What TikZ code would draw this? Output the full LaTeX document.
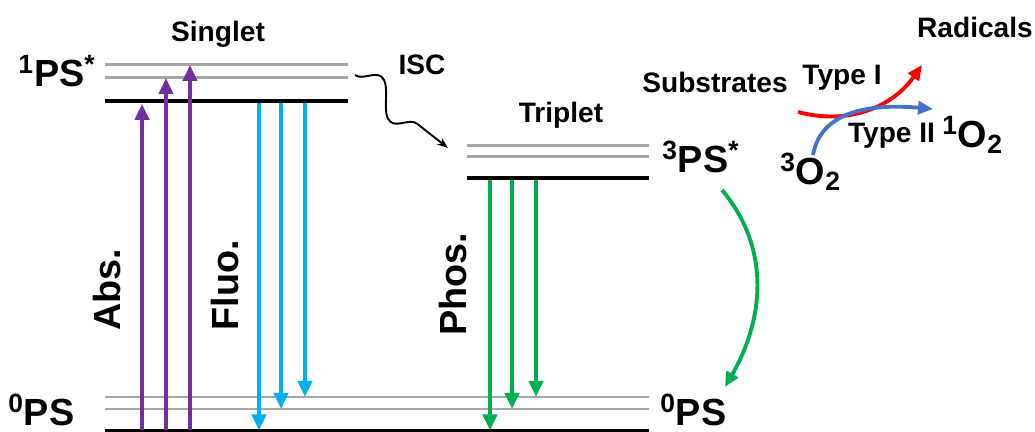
\documentclass[tikz,border=0pt]{standalone}
\usepackage{fontspec}
\setmainfont{Liberation Sans}
\usetikzlibrary{arrows.meta,positioning,calc,decorations.pathmorphing}
\definecolor{AbsPurple}{HTML}{7030A0}
\definecolor{FluoCyan}{HTML}{00B0F0}
\definecolor{PhosGreen}{HTML}{00B050}
\definecolor{LevelGray}{HTML}{A6A6A6}
\definecolor{TypeRed}{HTML}{FF0000}
\definecolor{TypeBlue}{HTML}{4472C4}

\begin{document}
\begin{tikzpicture}[
      lev/.style={line width=2.8pt},
      sublev/.style={LevelGray,line width=1.7pt},
      big/.style={font=\fontsize{21.5}{25}\selectfont\bfseries,inner sep=0pt},
      lbl/.style={font=\fontsize{16}{19}\selectfont\bfseries,inner sep=0pt},
      trans/.style={-{Triangle[length=0.32cm,width=0.28cm]},line width=2.2pt},
      react/.style={-{Triangle[length=0.3cm,width=0.26cm]},line width=2.2pt},
    ]
    \useasboundingbox (0,0) rectangle (20.7,8.64);
    % Ground state
    \draw[sublev] (2.10,0.70) coordinate (g2) -- (12.98,0.70);
    \draw[sublev] (2.10,0.46) coordinate (g1) -- (12.98,0.46);
    \draw[line width=1.2pt] (2.10,0.03) coordinate (g0) -- (12.98,0.03);
    % Singlet
    \draw[sublev] (2.10,7.34) coordinate (s2) -- (6.96,7.34);
    \draw[sublev] (2.10,7.08) coordinate (s1) -- (6.96,7.08);
    \draw[lev] (2.10,6.62) coordinate (s0) -- (6.96,6.62);
    % Triplet
    \draw[sublev] (9.34,5.72) coordinate (t2) -- (12.98,5.72);
    \draw[sublev] (9.34,5.50) coordinate (t1) -- (12.98,5.50);
    \draw[lev] (9.34,5.08) coordinate (t0) -- (12.98,5.08);

    % Transitions
    \foreach \x/\lv/\sh in {2.84/s0/1.6pt,3.32/s1/0pt,3.80/s2/0pt}
      \draw[trans,AbsPurple,shorten >=\sh] (\x,0 |- g0) -- (\x,0 |- \lv);
    \foreach \x/\lv in {5.18/g0,5.62/g1,6.10/g2}
      \draw[trans,FluoCyan] ([yshift=-1.4pt]\x,0 |- s0) -- (\x,0 |- \lv);
    \foreach \x/\lv in {9.80/g0,10.24/g1,10.72/g2}
      \draw[trans,PhosGreen] ([yshift=-1.4pt]\x,0 |- t0) -- (\x,0 |- \lv);

    % Labels
    \node[lbl,anchor=base] (singlet) at (4.36,7.80) {Singlet};
    \node[lbl,anchor=base] (triplet) at (11.22,6.18) {Triplet};
    \node[lbl,anchor=base] (isc) at (8.44,7.14) {ISC};
    \node[big,anchor=base east] (sps) at (1.92,6.90) {\textsuperscript{1}PS\textsuperscript{*}};
    \node[big,anchor=base west] (gpsL) at (0.16,0.12) {\textsuperscript{0}PS};
    \node[big,anchor=base west] (gpsR) at (13.20,0.12) {\textsuperscript{0}PS};
    \node[big,anchor=base west] (tps) at (13.24,5.18) {\textsuperscript{3}PS\textsuperscript{*}};
    \node[big,rotate=90] (abs) at (2.14,2.84) {Abs.};
    \node[big,rotate=90] (fluo) at (4.50,2.94) {Fluo.};
    \node[big,rotate=90] (phos) at (9.06,2.96) {Phos.};

    % ISC
    \coordinate (iscA) at (7.10,7.14);
    \coordinate (iscB) at (8.96,5.68);
    \draw[-{Stealth[length=0.22cm]},line width=1.1pt,
          decorate,decoration={snake,amplitude=0.3cm,segment length=1.4cm,post length=0.2cm}]
          (iscA) -- (iscB);

    % Back to ground
    \coordinate (phosA) at (14.44,4.84);
    \coordinate (phosB) at (14.50,0.90);
    \draw[react,PhosGreen] (phosA) to[out=-50,in=60] (phosB);

    % Type I / Type II
    \node[lbl,anchor=base] (subs) at (14.30,6.78) {Substrates};
    \node[lbl,anchor=base] (rad) at (19.50,7.88) {Radicals};
    \node[lbl,anchor=base] (type1) at (16.84,6.94) {Type I};
    \node[lbl,anchor=base] (type2) at (17.83,5.78) {Type II};
    \node[big,anchor=base west] (o1) at (18.84,5.68) {\textsuperscript{1}O\textsubscript{2}};
    \node[big,anchor=base west] (o3) at (15.60,4.94) {\textsuperscript{3}O\textsubscript{2}};
    \coordinate (redA) at (15.96,6.40);
    \coordinate (redB) at (18.44,7.34);
    \coordinate (blueA) at (16.26,5.54);
    \coordinate (blueB) at (18.66,6.46);
    \draw[react,TypeRed] (redA) to[out=-15,in=-125] (redB);
    \draw[react,TypeBlue] (blueA) to[out=80,in=175] (blueB);
  \end{tikzpicture}
\end{document}
